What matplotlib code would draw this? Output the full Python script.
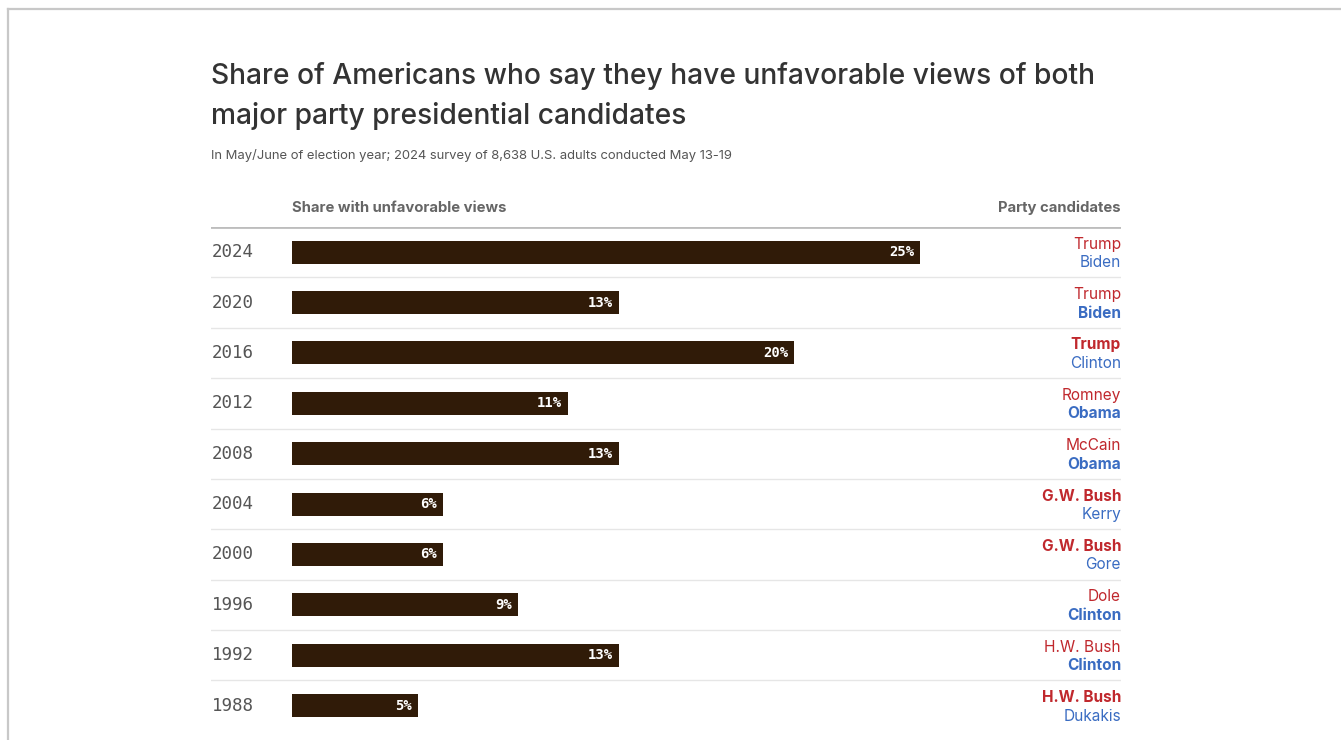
import matplotlib
matplotlib.use("Agg")
import matplotlib.pyplot as plt
from matplotlib.lines import Line2D

years = ["2024", "2020", "2016", "2012", "2008", "2004", "2000", "1996", "1992", "1988"]
shares = [25, 13, 20, 11, 13, 6, 6, 9, 13, 5]
republicans = ["Trump", "Trump", "Trump", "Romney", "McCain", "G.W. Bush", "G.W. Bush", "Dole", "H.W. Bush", "H.W. Bush"]
democrats = ["Biden", "Biden", "Clinton", "Obama", "Obama", "Kerry", "Gore", "Clinton", "Clinton", "Dukakis"]
winner = ["none", "D", "R", "D", "D", "R", "R", "D", "D", "R"]

W, H = 1341, 740
fig = plt.figure(figsize=(W / 100, H / 100), dpi=100)
fig.patch.set_facecolor("white")

def fx(px):
    return px / W

def fy(py):
    return 1 - py / H

sans = ["Inter", "DejaVu Sans"]
mono = ["DejaVu Sans Mono"]

# frame lines
fig.add_artist(Line2D([fx(8), 1], [fy(9), fy(9)], color="#c8c8c8", lw=1.6))
fig.add_artist(Line2D([fx(8), fx(8)], [fy(9), 0], color="#c8c8c8", lw=1.6))

# title / subtitle
fig.text(fx(211), fy(76), "Share of Americans who say they have unfavorable views of both",
         fontsize=20.3, color="#333333", family=sans, weight="medium", va="center", ha="left")
fig.text(fx(211), fy(116), "major party presidential candidates",
         fontsize=20.3, color="#333333", family=sans, weight="medium", va="center", ha="left")
fig.text(fx(211), fy(155), "In May/June of election year; 2024 survey of 8,638 U.S. adults conducted May 13-19",
         fontsize=9.4, color="#555555", family=sans, va="center", ha="left")

# header
fig.text(fx(292), fy(208), "Share with unfavorable views", fontsize=10.7, color="#666666",
         family=sans, weight="bold", va="center", ha="left")
fig.text(fx(1121), fy(208), "Party candidates", fontsize=10.7, color="#666666",
         family=sans, weight="bold", va="center", ha="right")

px_per_pct = 25.12
left_px, right_px = 211, 1121
top_px = 227
row_h = 50.4
x0 = -(292 - left_px) / px_per_pct
x1 = (right_px - 292) / px_per_pct
ybot = (H - 252) / row_h

ax = fig.add_axes([fx(left_px), 0, fx(right_px - left_px), fy(top_px)])
ax.set_xlim(x0, x1)
ax.set_ylim(ybot, -0.5)
ax.axis("off")

ax.axhline(-0.5, color="#bdbdbd", lw=2)
for i in range(len(years) - 1):
    ax.axhline(i + 0.5, color="#e6e6e6", lw=1)

pos = list(range(len(years)))
ax.barh(pos, shares, height=23 / row_h, color="#301b08", left=0)

for i, (yr, v) in enumerate(zip(years, shares)):
    ax.text(x0 + 0.04, i, yr, family=mono, fontsize=12.6, color="#555555", va="center", ha="left")
    ax.text(v - 6 / px_per_pct, i, f"{v}%", family=mono, fontsize=10, color="white",
            weight="bold", va="center", ha="right")
    ax.text(x1, i - 8 / row_h, republicans[i], family=sans, fontsize=11.1, color="#c0282d",
            weight="bold" if winner[i] == "R" else "normal", va="center", ha="right")
    ax.text(x1, i + 10.5 / row_h, democrats[i], family=sans, fontsize=11.1, color="#3a6cc2",
            weight="bold" if winner[i] == "D" else "normal", va="center", ha="right")

fig.savefig("out.png", dpi=100, facecolor="white")
